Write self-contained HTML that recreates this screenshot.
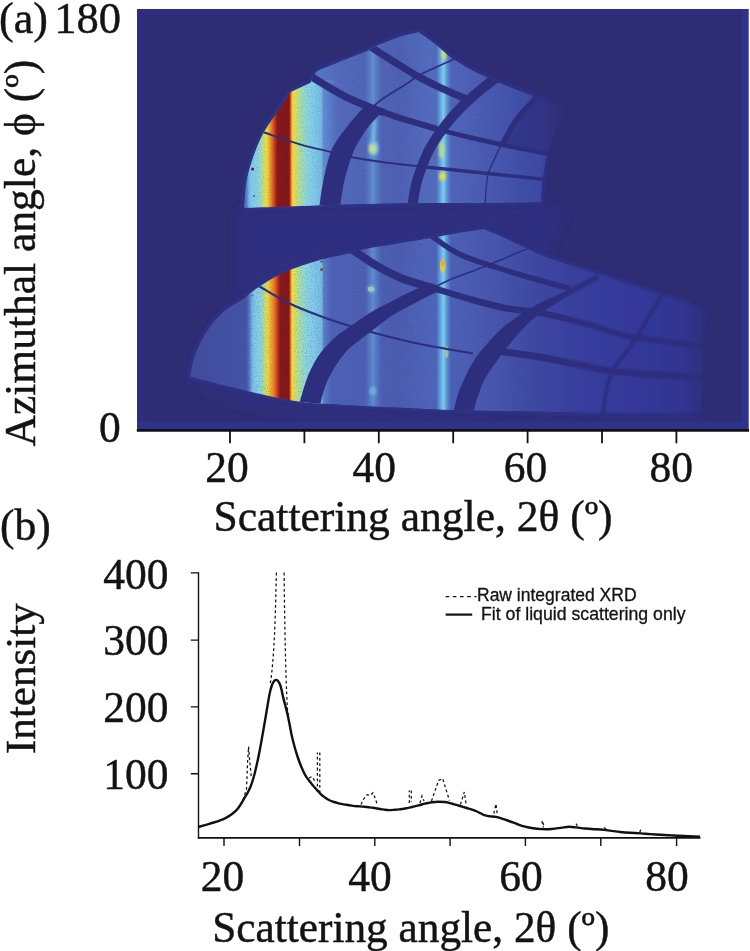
<!DOCTYPE html>
<html>
<head>
<meta charset="utf-8">
<title>Figure</title>
<style>
html,body{margin:0;padding:0;background:#fff;}
body{width:750px;height:951px;position:relative;overflow:hidden;font-family:"Liberation Serif",serif;}
svg{position:absolute;left:0;top:0;display:block;will-change:transform}
text{font-family:"Liberation Serif",serif;fill:#131313;stroke:#131313;stroke-width:0.45px;}
.sans{stroke-width:0.3px}
.sans{font-family:"Liberation Sans",sans-serif;}
</style>
</head>
<body>
<svg width="750" height="951" viewBox="0 0 750 951">
<defs>
<linearGradient id="gPanel" gradientUnits="userSpaceOnUse" x1="137" y1="0" x2="748" y2="0" ><stop offset="0.0000" stop-color="#404c9e"/><stop offset="0.1031" stop-color="#424ea0"/><stop offset="0.1768" stop-color="#4452a4"/><stop offset="0.2995" stop-color="#4c60b6"/><stop offset="0.3322" stop-color="#4b5eb3"/><stop offset="0.4304" stop-color="#4a5aae"/><stop offset="0.4795" stop-color="#4c62b8"/><stop offset="0.5450" stop-color="#485ab0"/><stop offset="0.5941" stop-color="#4452aa"/><stop offset="0.6596" stop-color="#3c46a0"/><stop offset="0.7250" stop-color="#383e9e"/><stop offset="0.7905" stop-color="#353a9b"/><stop offset="0.8723" stop-color="#323694"/><stop offset="0.9296" stop-color="#30338c"/><stop offset="1.0000" stop-color="#2f3086"/></linearGradient>
<linearGradient id="gPanelU" gradientUnits="userSpaceOnUse" x1="240" y1="0" x2="570" y2="0" ><stop offset="0.0000" stop-color="#4a5cb4"/><stop offset="0.2424" stop-color="#5574c4"/><stop offset="0.3030" stop-color="#5066b8"/><stop offset="0.4848" stop-color="#4c5eb2"/><stop offset="0.5758" stop-color="#506abc"/><stop offset="0.6667" stop-color="#4c60b6"/><stop offset="0.7879" stop-color="#4454ac"/><stop offset="0.9091" stop-color="#3c48a2"/><stop offset="1.0000" stop-color="#363e9c"/></linearGradient>
<linearGradient id="gPeakU" gradientUnits="userSpaceOnUse" x1="243" y1="0" x2="337" y2="0" ><stop offset="0.0000" stop-color="#4a6cc8" stop-opacity="0"/><stop offset="0.0372" stop-color="#5a8ad6" stop-opacity="0.7"/><stop offset="0.0638" stop-color="#74b8e4"/><stop offset="0.0957" stop-color="#7fcdea"/><stop offset="0.1596" stop-color="#86d2e6"/><stop offset="0.1968" stop-color="#a8dca8"/><stop offset="0.2234" stop-color="#cfe060"/><stop offset="0.2553" stop-color="#f0de3a"/><stop offset="0.2872" stop-color="#ee9a26"/><stop offset="0.3191" stop-color="#d85a1e"/><stop offset="0.3457" stop-color="#b02c1a"/><stop offset="0.3670" stop-color="#84191a"/><stop offset="0.4894" stop-color="#80181a"/><stop offset="0.5032" stop-color="#c8381c"/><stop offset="0.5160" stop-color="#f0a02a"/><stop offset="0.5319" stop-color="#f2de3c"/><stop offset="0.5638" stop-color="#d4e060"/><stop offset="0.5957" stop-color="#b4e08c"/><stop offset="0.6383" stop-color="#96dcc0"/><stop offset="0.6915" stop-color="#86d4e0"/><stop offset="0.7553" stop-color="#7ccaea"/><stop offset="0.8330" stop-color="#74bce8" stop-opacity="0.95"/><stop offset="0.8564" stop-color="#6aa8e2" stop-opacity="0.5"/><stop offset="1.0000" stop-color="#5c9ade" stop-opacity="0"/></linearGradient>
<linearGradient id="gPeakL" gradientUnits="userSpaceOnUse" x1="246" y1="0" x2="332" y2="0" ><stop offset="0.0000" stop-color="#4e78cc" stop-opacity="0"/><stop offset="0.0407" stop-color="#5a8ad6" stop-opacity="0.7"/><stop offset="0.0698" stop-color="#72b6e4"/><stop offset="0.1047" stop-color="#7cc8ea"/><stop offset="0.1628" stop-color="#86d2e4"/><stop offset="0.1919" stop-color="#9cd8b0"/><stop offset="0.2209" stop-color="#c4de68"/><stop offset="0.2500" stop-color="#e6de40"/><stop offset="0.2791" stop-color="#f0b42e"/><stop offset="0.3140" stop-color="#ec8a28"/><stop offset="0.3488" stop-color="#d8561e"/><stop offset="0.3791" stop-color="#a4281a"/><stop offset="0.4012" stop-color="#84191a"/><stop offset="0.4977" stop-color="#80181a"/><stop offset="0.5116" stop-color="#c8381c"/><stop offset="0.5233" stop-color="#f0a02a"/><stop offset="0.5395" stop-color="#f2de3c"/><stop offset="0.5698" stop-color="#d4e060"/><stop offset="0.6047" stop-color="#b4e08c"/><stop offset="0.6512" stop-color="#96dcc0"/><stop offset="0.7093" stop-color="#86d4e0"/><stop offset="0.7907" stop-color="#7ccaea"/><stop offset="0.8791" stop-color="#74bce8" stop-opacity="0.95"/><stop offset="0.9023" stop-color="#6aa8e2" stop-opacity="0.4"/><stop offset="1.0000" stop-color="#5c9ade" stop-opacity="0"/></linearGradient>
<linearGradient id="g49" gradientUnits="userSpaceOnUse" x1="436" y1="0" x2="452" y2="0" ><stop offset="0.0000" stop-color="#5aa0e0" stop-opacity="0"/><stop offset="0.2500" stop-color="#62b4e6" stop-opacity="0.75"/><stop offset="0.4688" stop-color="#7fd2ee" stop-opacity="0.95"/><stop offset="0.6875" stop-color="#62b4e6" stop-opacity="0.6"/><stop offset="0.9375" stop-color="#5aa0e0" stop-opacity="0"/></linearGradient>
<linearGradient id="g39" gradientUnits="userSpaceOnUse" x1="365" y1="0" x2="382" y2="0" ><stop offset="0.0000" stop-color="#5aa0e0" stop-opacity="0"/><stop offset="0.2647" stop-color="#62aee4" stop-opacity="0.32"/><stop offset="0.4706" stop-color="#74c4ea" stop-opacity="0.45"/><stop offset="0.7059" stop-color="#62aee4" stop-opacity="0.28"/><stop offset="1.0000" stop-color="#5aa0e0" stop-opacity="0"/></linearGradient>
<clipPath id="cU"><path d="M244.0 208.0C244.4 203.3 244.9 189.2 246.7 180.0C248.5 170.8 251.8 161.0 254.7 153.0C257.6 145.0 260.4 138.5 264.0 132.0C267.6 125.5 271.6 120.7 276.0 114.0C280.4 107.3 288.2 95.7 290.7 92.0L310.7 82.7C311.2 81.4 312.4 77.0 313.5 75.0C314.6 73.0 316.7 71.4 317.3 70.7C321.9 68.8 336.8 62.8 345.0 59.5C353.2 56.2 361.4 53.3 366.7 51.0C372.0 48.7 371.4 47.9 377.0 45.5C382.6 43.1 393.1 38.8 400.0 36.5C406.9 34.2 415.6 32.8 418.7 32.0C421.2 33.8 428.7 38.8 434.0 43.0C439.3 47.2 444.4 52.8 450.7 57.3C457.0 61.8 464.9 66.2 472.0 70.0C479.1 73.8 485.8 76.8 493.0 80.0C500.2 83.2 507.8 86.2 515.0 89.0C522.2 91.8 529.8 94.7 536.0 97.0C542.2 99.3 547.0 101.0 552.0 103.0C557.0 105.0 563.7 108.0 566.0 109.0C564.3 112.5 559.0 122.7 556.0 130.0C553.0 137.3 550.2 145.0 548.0 153.0C545.8 161.0 544.2 169.8 543.0 178.0C541.8 186.2 541.3 198.4 541.0 202.5C531.7 202.6 505.2 202.9 485.0 203.0C464.8 203.1 444.2 202.7 420.0 203.0C395.8 203.3 369.3 204.0 340.0 204.8C310.7 205.6 260.0 207.5 244.0 208.0Z"/></clipPath>
<clipPath id="cL"><path d="M190.0 376.8C190.6 373.9 192.0 364.9 193.5 359.7C195.0 354.5 196.8 350.5 198.9 345.9C201.0 341.3 203.3 336.6 206.3 332.0C209.3 327.4 213.4 321.9 217.0 318.0C220.6 314.1 224.1 311.2 227.7 308.5C231.2 305.8 235.8 303.5 238.3 302.0C240.8 300.5 240.5 300.9 242.6 299.3C244.7 297.7 247.9 294.8 251.0 292.5C254.1 290.2 259.3 286.7 261.0 285.5C265.0 283.2 275.2 276.2 285.0 272.0C294.8 267.8 309.8 263.0 320.0 260.0C330.2 257.0 338.5 255.8 346.0 254.0C353.5 252.2 356.0 250.8 365.0 249.0C374.0 247.2 388.7 244.9 400.0 243.0C411.3 241.1 423.0 239.2 433.0 237.5C443.0 235.8 451.5 233.9 460.0 232.5C468.5 231.1 480.0 229.6 484.0 229.0C487.2 230.3 497.0 234.3 503.0 237.0C509.0 239.7 513.8 242.1 520.0 245.0C526.2 247.9 532.0 251.2 540.0 254.5C548.0 257.8 558.5 261.3 568.0 264.5C577.5 267.7 586.7 270.2 597.0 273.5C607.3 276.8 619.3 280.9 630.0 284.5C640.7 288.1 651.0 291.8 661.0 295.0C671.0 298.2 682.2 301.5 690.0 304.0C697.8 306.5 705.0 309.0 708.0 310.0C707.5 315.8 705.8 333.3 705.0 345.0C704.2 356.7 703.7 368.7 703.0 380.0C702.3 391.3 701.3 407.2 701.0 412.7C685.2 412.7 636.2 412.9 606.0 412.7C575.8 412.5 545.7 411.8 520.0 411.3C494.3 410.9 472.0 410.6 452.0 410.0C432.0 409.4 418.7 408.7 400.0 407.8C381.3 406.9 356.9 405.8 340.0 404.7C323.1 403.6 314.0 403.7 298.7 401.5C283.4 399.3 266.1 395.4 248.0 391.3C229.9 387.2 199.7 379.2 190.0 376.8Z"/></clipPath>
<clipPath id="cH"><rect x="137" y="9" width="611.5" height="421.5"/></clipPath>
<filter id="soft" x="-5%" y="-5%" width="110%" height="110%"><feGaussianBlur stdDeviation="0.7"/></filter>
<filter id="soft2" x="-5%" y="-5%" width="110%" height="110%"><feGaussianBlur stdDeviation="1.6"/></filter>
<filter id="soft25" x="-5%" y="-10%" width="110%" height="120%"><feGaussianBlur stdDeviation="2.5"/></filter>
<filter id="soft15" x="-5%" y="-5%" width="110%" height="110%"><feGaussianBlur stdDeviation="1.15"/></filter>
<filter id="soft3" x="-20%" y="-20%" width="140%" height="140%"><feGaussianBlur stdDeviation="5"/></filter>
<filter id="nz" x="0" y="0" width="100%" height="100%" color-interpolation-filters="sRGB"><feTurbulence type="fractalNoise" baseFrequency="0.75" numOctaves="2" seed="7" result="n"/><feColorMatrix in="n" type="matrix" values="0 0 0 0 1  0 0 0 0 1  0 0 0 0 1  2.2 0 0 0 -1.0"/><feComposite in2="SourceGraphic" operator="in"/></filter>
<filter id="nzd" x="0" y="0" width="100%" height="100%" color-interpolation-filters="sRGB"><feTurbulence type="fractalNoise" baseFrequency="0.8" numOctaves="2" seed="23" result="n"/><feColorMatrix in="n" type="matrix" values="0 0 0 0 0.12  0 0 0 0 0.15  0 0 0 0 0.45  0 2.2 0 0 -1.0"/><feComposite in2="SourceGraphic" operator="in"/></filter>
<linearGradient id="gNzMask" gradientUnits="userSpaceOnUse" x1="244" y1="0" x2="330" y2="0" ><stop offset="0.0000" stop-color="#fff" stop-opacity="0"/><stop offset="0.1047" stop-color="#fff" stop-opacity="1"/><stop offset="0.2791" stop-color="#fff" stop-opacity="1"/><stop offset="0.3721" stop-color="#fff" stop-opacity="0.12"/><stop offset="0.5349" stop-color="#fff" stop-opacity="0.12"/><stop offset="0.5814" stop-color="#fff" stop-opacity="1"/><stop offset="0.8372" stop-color="#fff" stop-opacity="1"/><stop offset="1.0000" stop-color="#fff" stop-opacity="0"/></linearGradient>
<mask id="mNz" maskUnits="userSpaceOnUse" x="240" y="60" width="100" height="360"><rect x="240" y="60" width="100" height="360" fill="url(#gNzMask)"/></mask>
<linearGradient id="gNzMask2" gradientUnits="userSpaceOnUse" x1="320" y1="0" x2="565" y2="0" ><stop offset="0.0000" stop-color="#fff" stop-opacity="0"/><stop offset="0.0571" stop-color="#fff" stop-opacity="1"/><stop offset="0.6122" stop-color="#fff" stop-opacity="1"/><stop offset="1.0000" stop-color="#fff" stop-opacity="0"/></linearGradient>
<mask id="mNz2" maskUnits="userSpaceOnUse" x="320" y="20" width="250" height="400"><rect x="320" y="20" width="250" height="400" fill="url(#gNzMask2)"/></mask>
<linearGradient id="gBg" x1="0" y1="0" x2="0" y2="1"><stop offset="0" stop-color="#2e2d75"/><stop offset="0.45" stop-color="#2e2d76"/><stop offset="0.55" stop-color="#2e2f7c"/><stop offset="1" stop-color="#2e3080"/></linearGradient>
<linearGradient id="gFadeU" gradientUnits="userSpaceOnUse" x1="540" y1="0" x2="572" y2="0" ><stop offset="0.0000" stop-color="#2e2d75" stop-opacity="0"/><stop offset="0.5000" stop-color="#2e2d75" stop-opacity="0.55"/><stop offset="1.0000" stop-color="#2e2d75" stop-opacity="1"/></linearGradient>
<linearGradient id="gFadeL" gradientUnits="userSpaceOnUse" x1="684" y1="0" x2="712" y2="0" ><stop offset="0.0000" stop-color="#2e2d75" stop-opacity="0"/><stop offset="0.5000" stop-color="#2e2d75" stop-opacity="0.45"/><stop offset="1.0000" stop-color="#2e2d75" stop-opacity="1"/></linearGradient>
<clipPath id="cLeft"><rect x="137" y="9" width="433" height="422"/></clipPath>
<clipPath id="cRight"><rect x="570" y="9" width="180" height="422"/></clipPath>
<clipPath id="cMU"><rect x="137" y="9" width="410" height="230"/></clipPath>
<clipPath id="cML"><rect x="137" y="215" width="555" height="215"/></clipPath>
</defs>

<!-- ================= PANEL (a) heatmap ================= -->
<g id="heat">

<rect x="137" y="9" width="611.5" height="421.5" fill="#2e2c73"/><g clip-path="url(#cH)"><g filter="url(#soft3)"><path d="M237 209L545 204L568 212L548 258L520 246L484 230L433 238.5L346 255L285 273L261 287L240 301L237 292Z" fill="#2e3084" fill-opacity="0.7"/><path d="M184 377L300 405L460 414L700 417L700 424L420 424L300 420L215 400Z" fill="#2e3084" fill-opacity="0.6"/></g></g><g clip-path="url(#cH)"><g filter="url(#soft)"><rect x="137" y="9" width="7.2" height="421" fill="#2e2f80"/><rect x="137" y="9" width="611.5" height="6.5" fill="#2e2f80"/><rect x="742" y="9" width="6.7" height="421" fill="#2f328c"/><rect x="137" y="421.3" width="611.5" height="9.5" fill="#2e308a"/></g><g filter="url(#soft15)" fill="none" stroke="#2e3284" stroke-width="6.5" stroke-linejoin="round"><g clip-path="url(#cMU)"><path d="M244.0 208.0C244.4 203.3 244.9 189.2 246.7 180.0C248.5 170.8 251.8 161.0 254.7 153.0C257.6 145.0 260.4 138.5 264.0 132.0C267.6 125.5 271.6 120.7 276.0 114.0C280.4 107.3 288.2 95.7 290.7 92.0L310.7 82.7C311.2 81.4 312.4 77.0 313.5 75.0C314.6 73.0 316.7 71.4 317.3 70.7C321.9 68.8 336.8 62.8 345.0 59.5C353.2 56.2 361.4 53.3 366.7 51.0C372.0 48.7 371.4 47.9 377.0 45.5C382.6 43.1 393.1 38.8 400.0 36.5C406.9 34.2 415.6 32.8 418.7 32.0C421.2 33.8 428.7 38.8 434.0 43.0C439.3 47.2 444.4 52.8 450.7 57.3C457.0 61.8 464.9 66.2 472.0 70.0C479.1 73.8 485.8 76.8 493.0 80.0C500.2 83.2 507.8 86.2 515.0 89.0C522.2 91.8 529.8 94.7 536.0 97.0C542.2 99.3 547.0 101.0 552.0 103.0C557.0 105.0 563.7 108.0 566.0 109.0C564.3 112.5 559.0 122.7 556.0 130.0C553.0 137.3 550.2 145.0 548.0 153.0C545.8 161.0 544.2 169.8 543.0 178.0C541.8 186.2 541.3 198.4 541.0 202.5C531.7 202.6 505.2 202.9 485.0 203.0C464.8 203.1 444.2 202.7 420.0 203.0C395.8 203.3 369.3 204.0 340.0 204.8C310.7 205.6 260.0 207.5 244.0 208.0Z"/></g><g clip-path="url(#cML)"><path d="M190.0 376.8C190.6 373.9 192.0 364.9 193.5 359.7C195.0 354.5 196.8 350.5 198.9 345.9C201.0 341.3 203.3 336.6 206.3 332.0C209.3 327.4 213.4 321.9 217.0 318.0C220.6 314.1 224.1 311.2 227.7 308.5C231.2 305.8 235.8 303.5 238.3 302.0C240.8 300.5 240.5 300.9 242.6 299.3C244.7 297.7 247.9 294.8 251.0 292.5C254.1 290.2 259.3 286.7 261.0 285.5C265.0 283.2 275.2 276.2 285.0 272.0C294.8 267.8 309.8 263.0 320.0 260.0C330.2 257.0 338.5 255.8 346.0 254.0C353.5 252.2 356.0 250.8 365.0 249.0C374.0 247.2 388.7 244.9 400.0 243.0C411.3 241.1 423.0 239.2 433.0 237.5C443.0 235.8 451.5 233.9 460.0 232.5C468.5 231.1 480.0 229.6 484.0 229.0C487.2 230.3 497.0 234.3 503.0 237.0C509.0 239.7 513.8 242.1 520.0 245.0C526.2 247.9 532.0 251.2 540.0 254.5C548.0 257.8 558.5 261.3 568.0 264.5C577.5 267.7 586.7 270.2 597.0 273.5C607.3 276.8 619.3 280.9 630.0 284.5C640.7 288.1 651.0 291.8 661.0 295.0C671.0 298.2 682.2 301.5 690.0 304.0C697.8 306.5 705.0 309.0 708.0 310.0C707.5 315.8 705.8 333.3 705.0 345.0C704.2 356.7 703.7 368.7 703.0 380.0C702.3 391.3 701.3 407.2 701.0 412.7C685.2 412.7 636.2 412.9 606.0 412.7C575.8 412.5 545.7 411.8 520.0 411.3C494.3 410.9 472.0 410.6 452.0 410.0C432.0 409.4 418.7 408.7 400.0 407.8C381.3 406.9 356.9 405.8 340.0 404.7C323.1 403.6 314.0 403.7 298.7 401.5C283.4 399.3 266.1 395.4 248.0 391.3C229.9 387.2 199.7 379.2 190.0 376.8Z"/></g></g><g filter="url(#soft)"><g clip-path="url(#cU)"><path d="M244.0 208.0C244.4 203.3 244.9 189.2 246.7 180.0C248.5 170.8 251.8 161.0 254.7 153.0C257.6 145.0 260.4 138.5 264.0 132.0C267.6 125.5 271.6 120.7 276.0 114.0C280.4 107.3 288.2 95.7 290.7 92.0L310.7 82.7C311.2 81.4 312.4 77.0 313.5 75.0C314.6 73.0 316.7 71.4 317.3 70.7C321.9 68.8 336.8 62.8 345.0 59.5C353.2 56.2 361.4 53.3 366.7 51.0C372.0 48.7 371.4 47.9 377.0 45.5C382.6 43.1 393.1 38.8 400.0 36.5C406.9 34.2 415.6 32.8 418.7 32.0C421.2 33.8 428.7 38.8 434.0 43.0C439.3 47.2 444.4 52.8 450.7 57.3C457.0 61.8 464.9 66.2 472.0 70.0C479.1 73.8 485.8 76.8 493.0 80.0C500.2 83.2 507.8 86.2 515.0 89.0C522.2 91.8 529.8 94.7 536.0 97.0C542.2 99.3 547.0 101.0 552.0 103.0C557.0 105.0 563.7 108.0 566.0 109.0C564.3 112.5 559.0 122.7 556.0 130.0C553.0 137.3 550.2 145.0 548.0 153.0C545.8 161.0 544.2 169.8 543.0 178.0C541.8 186.2 541.3 198.4 541.0 202.5C531.7 202.6 505.2 202.9 485.0 203.0C464.8 203.1 444.2 202.7 420.0 203.0C395.8 203.3 369.3 204.0 340.0 204.8C310.7 205.6 260.0 207.5 244.0 208.0Z" fill="url(#gPanelU)"/><rect x="243" y="80" width="94" height="130" fill="url(#gPeakU)"/><rect x="365" y="40" width="17" height="170" fill="url(#g39)"/><rect x="436" y="25" width="16" height="185" fill="url(#g49)"/><path d="M321.3 80V206" stroke="#7fc8a0" stroke-opacity="0.55" stroke-width="1.2" stroke-dasharray="3 2"/><g filter="url(#soft2)"><ellipse cx="373.5" cy="148" rx="5.2" ry="7.5" fill="#7ccce8" fill-opacity="0.9"/><ellipse cx="372.5" cy="149" rx="3.4" ry="4.2" fill="#cfe070"/><path d="M373 120L376.5 118L375.5 140L371 140Z" fill="#7cc8ea" fill-opacity="0.7"/></g><g filter="url(#soft2)"><ellipse cx="441.5" cy="150" rx="2.8" ry="9" fill="#c8e078" fill-opacity="0.85"/><ellipse cx="442.5" cy="176.5" rx="3.4" ry="4" fill="#ecdc40"/><ellipse cx="444" cy="54" rx="2.6" ry="5.5" fill="#d8e060" fill-opacity="0.9"/></g><g mask="url(#mNz)"><rect x="244" y="85" width="90" height="125" fill="#fff" filter="url(#nz)" opacity="0.2"/><rect x="244" y="85" width="90" height="125" fill="#fff" filter="url(#nzd)" opacity="0.2"/></g><g mask="url(#mNz2)"><rect x="320" y="30" width="250" height="180" fill="#fff" filter="url(#nz)" opacity="0.08"/></g><circle cx="252.6" cy="169" r="1.5" fill="#7a1c18"/><circle cx="254" cy="196" r="0.9" fill="#3a58b0"/><path d="M304.0 71.0C305.6 72.2 306.7 73.8 313.5 78.0C320.3 82.2 335.1 91.4 345.0 96.5C354.9 101.6 366.5 105.8 373.0 108.5C379.5 111.2 382.2 111.8 384.0 112.5" fill="none" stroke="#2d2f7e" stroke-width="7.5" stroke-linecap="butt" /><path d="M380.0 111.0C383.3 112.2 393.3 115.8 400.0 118.0C406.7 120.2 413.8 122.2 420.0 124.0C426.2 125.8 434.2 128.2 437.0 129.0" fill="none" stroke="#2d2f7e" stroke-width="6.2" stroke-linecap="butt" /><path d="M432.0 127.6C435.0 128.4 444.0 130.9 450.0 132.5C456.0 134.1 459.5 135.0 468.0 137.0C476.5 139.0 488.3 141.8 501.0 144.5C513.7 147.2 534.2 151.2 544.0 153.0C553.8 154.8 557.3 155.1 560.0 155.5" fill="none" stroke="#2d2f7e" stroke-width="4.8" stroke-linecap="butt" /><path d="M366.0 42.0C367.1 43.0 366.8 44.1 372.5 48.0C378.2 51.9 392.1 60.6 400.0 65.5C407.9 70.4 413.0 73.7 420.0 77.5C427.0 81.3 434.3 84.9 442.0 88.5C449.7 92.1 462.0 97.2 466.0 99.0" fill="none" stroke="#2d2f7e" stroke-width="7.2" stroke-linecap="butt" /><path d="M318.8 214.0C318.9 212.6 318.7 211.0 319.5 205.3C320.3 199.6 321.7 188.7 323.5 180.0C325.3 171.3 328.0 160.0 330.3 153.3C332.6 146.6 334.5 144.4 337.3 140.0C340.1 135.6 343.1 131.6 347.0 126.7C350.9 121.8 357.0 114.5 360.5 110.7C364.0 106.9 366.8 105.1 368.0 104.0L384.0 110.0C383.4 110.6 383.1 110.7 380.5 113.5C377.9 116.3 372.0 122.3 368.5 126.7C365.0 131.1 362.2 135.6 359.6 140.0C357.0 144.4 355.3 146.6 352.8 153.3C350.3 160.0 346.7 171.3 344.6 180.0C342.5 188.7 341.2 199.6 340.3 205.3C339.4 211.0 339.6 212.6 339.5 214.0Z" fill="#2d2f7e"/><path d="M373.0 108.5C373.5 107.8 373.2 106.4 376.0 104.0C378.8 101.6 384.8 97.4 390.0 94.0C395.2 90.6 402.0 86.7 407.0 83.5C412.0 80.3 412.9 78.4 420.0 74.7C427.1 71.0 442.6 64.4 449.3 61.3C456.0 58.2 458.2 56.9 460.0 56.0" fill="none" stroke="#2d2f7e" stroke-width="1.8" stroke-linecap="butt" /><path d="M411.5 214.0C411.7 212.5 411.8 209.8 412.5 205.0C413.2 200.2 414.6 191.0 416.0 185.0C417.4 179.0 418.8 174.8 421.0 169.0C423.2 163.2 426.0 155.8 429.0 150.0C432.0 144.2 435.0 139.7 439.0 134.0C443.0 128.3 447.7 122.0 453.0 116.0C458.3 110.0 464.3 104.0 471.0 98.0C477.7 92.0 488.2 83.8 493.0 80.0C497.8 76.2 498.8 75.8 500.0 75.0" fill="none" stroke="#2d2f7e" stroke-width="10" stroke-linecap="butt" /><path d="M258.0 130.5C258.8 130.8 255.7 129.7 262.7 132.0C269.7 134.3 288.4 140.9 300.0 144.3C311.6 147.7 325.3 150.5 332.0 152.3C338.7 154.1 332.0 153.4 340.0 155.0C348.0 156.6 366.7 159.9 380.0 161.8C393.3 163.7 413.3 165.7 420.0 166.5" fill="none" stroke="#2d2f7e" stroke-width="1.9" stroke-linecap="butt" /><path d="M420.0 166.5C425.8 167.1 443.7 168.8 455.0 170.0C466.3 171.2 473.7 172.0 488.0 173.5C502.3 175.0 530.3 177.9 541.0 179.0C551.7 180.1 550.2 179.8 552.0 180.0" fill="none" stroke="#2d2f7e" stroke-width="3.4" stroke-linecap="butt" /><path d="M503.0 140.0C502.7 140.9 502.5 142.2 501.0 145.5C499.5 148.8 496.2 155.2 494.0 160.0C491.8 164.8 489.3 169.5 488.0 174.5C486.7 179.5 486.5 184.4 486.0 190.0C485.5 195.6 485.2 205.0 485.0 208.0" fill="none" stroke="#2d2f7e" stroke-width="1.4" stroke-linecap="butt" /><path d="M538 92L575 108L556 150L548 153L502 143L512 126.7L521 114L533 101Z" fill="#2f3180" fill-opacity="0.8"/><path d="M541.0 91.0C539.7 92.7 536.3 97.2 533.0 101.0C529.7 104.8 524.5 109.7 521.0 114.0C517.5 118.3 515.0 121.9 512.0 126.7C509.0 131.5 504.5 140.3 503.0 143.0" fill="none" stroke="#2d2f7e" stroke-width="5.5" stroke-linecap="butt" /><rect x="540" y="85" width="40" height="125" fill="url(#gFadeU)"/></g></g><g clip-path="url(#cLeft)"><g filter="url(#soft)"><g clip-path="url(#cL)"><path d="M190.0 376.8C190.6 373.9 192.0 364.9 193.5 359.7C195.0 354.5 196.8 350.5 198.9 345.9C201.0 341.3 203.3 336.6 206.3 332.0C209.3 327.4 213.4 321.9 217.0 318.0C220.6 314.1 224.1 311.2 227.7 308.5C231.2 305.8 235.8 303.5 238.3 302.0C240.8 300.5 240.5 300.9 242.6 299.3C244.7 297.7 247.9 294.8 251.0 292.5C254.1 290.2 259.3 286.7 261.0 285.5C265.0 283.2 275.2 276.2 285.0 272.0C294.8 267.8 309.8 263.0 320.0 260.0C330.2 257.0 338.5 255.8 346.0 254.0C353.5 252.2 356.0 250.8 365.0 249.0C374.0 247.2 388.7 244.9 400.0 243.0C411.3 241.1 423.0 239.2 433.0 237.5C443.0 235.8 451.5 233.9 460.0 232.5C468.5 231.1 480.0 229.6 484.0 229.0C487.2 230.3 497.0 234.3 503.0 237.0C509.0 239.7 513.8 242.1 520.0 245.0C526.2 247.9 532.0 251.2 540.0 254.5C548.0 257.8 558.5 261.3 568.0 264.5C577.5 267.7 586.7 270.2 597.0 273.5C607.3 276.8 619.3 280.9 630.0 284.5C640.7 288.1 651.0 291.8 661.0 295.0C671.0 298.2 682.2 301.5 690.0 304.0C697.8 306.5 705.0 309.0 708.0 310.0C707.5 315.8 705.8 333.3 705.0 345.0C704.2 356.7 703.7 368.7 703.0 380.0C702.3 391.3 701.3 407.2 701.0 412.7C685.2 412.7 636.2 412.9 606.0 412.7C575.8 412.5 545.7 411.8 520.0 411.3C494.3 410.9 472.0 410.6 452.0 410.0C432.0 409.4 418.7 408.7 400.0 407.8C381.3 406.9 356.9 405.8 340.0 404.7C323.1 403.6 314.0 403.7 298.7 401.5C283.4 399.3 266.1 395.4 248.0 391.3C229.9 387.2 199.7 379.2 190.0 376.8Z" fill="url(#gPanel)"/><rect x="246" y="250" width="86" height="160" fill="url(#gPeakL)"/><rect x="365" y="240" width="17" height="175" fill="url(#g39)"/><rect x="436" y="225" width="16" height="190" fill="url(#g49)"/><path d="M322.3 255V405" stroke="#7fc8a0" stroke-opacity="0.5" stroke-width="1.2" stroke-dasharray="3 2"/><ellipse cx="371" cy="289" rx="3" ry="2.6" fill="#d8e070" fill-opacity="0.8"/><ellipse cx="442.7" cy="266" rx="2.8" ry="7" fill="#e8c848" fill-opacity="0.9"/><ellipse cx="442.7" cy="263" rx="1.8" ry="3" fill="#f0a030" fill-opacity="0.9"/><ellipse cx="446.5" cy="352" rx="2" ry="6" fill="#c8dc78" fill-opacity="0.6"/><g filter="url(#soft15)"><ellipse cx="373" cy="391" rx="3.6" ry="4.5" fill="#7cc8ea" fill-opacity="0.55"/><ellipse cx="371.5" cy="289" rx="4.5" ry="4" fill="#7cc8ea" fill-opacity="0.5"/></g><g mask="url(#mNz)"><rect x="244" y="255" width="90" height="150" fill="#fff" filter="url(#nz)" opacity="0.26"/><rect x="244" y="255" width="90" height="150" fill="#fff" filter="url(#nzd)" opacity="0.26"/></g><g mask="url(#mNz2)"><rect x="320" y="225" width="250" height="190" fill="#fff" filter="url(#nz)" opacity="0.08"/></g><circle cx="321.6" cy="261.6" r="1.1" fill="#8a2a20"/><circle cx="321.6" cy="269.6" r="1.3" fill="#8a2a20"/><circle cx="252" cy="295.5" r="0.9" fill="#5a7a50"/><path d="M255.0 284.0C255.8 284.4 254.5 283.6 260.0 286.7C265.5 289.8 278.0 297.8 288.0 302.7C298.0 307.6 310.2 312.3 320.0 316.0C329.8 319.7 337.6 322.2 346.7 325.0C355.8 327.8 362.5 329.8 374.7 333.0C386.9 336.2 403.6 340.6 420.0 344.0C436.4 347.4 464.2 351.9 473.0 353.5" fill="none" stroke="#2d2f7e" stroke-width="2.2" stroke-linecap="butt" /><path d="M486.0 350.5C488.3 350.7 491.0 350.4 500.0 351.5C509.0 352.6 527.5 354.9 540.0 357.0C552.5 359.1 563.0 361.7 575.0 364.0C587.0 366.3 597.8 369.2 612.0 371.0C626.2 372.8 643.3 373.8 660.0 375.0C676.7 376.2 703.3 377.5 712.0 378.0" fill="none" stroke="#2d2f7e" stroke-width="7" stroke-linecap="butt" /><path d="M342.0 245.5C344.2 246.5 349.3 248.3 355.0 251.6C360.7 254.9 368.5 261.1 376.0 265.4C383.5 269.7 392.0 274.2 400.0 277.6C408.0 281.0 418.0 283.6 424.0 285.5C430.0 287.4 434.0 288.4 436.0 289.0" fill="none" stroke="#2d2f7e" stroke-width="8" stroke-linecap="butt" /><path d="M430.0 287.0C437.2 289.2 460.5 296.5 473.0 300.0C485.5 303.5 494.7 306.0 505.0 308.0C515.3 310.0 530.0 311.3 535.0 312.0" fill="none" stroke="#2d2f7e" stroke-width="6.5" stroke-linecap="butt" /><path d="M530.0 311.5C533.5 312.1 540.7 312.8 550.7 315.0C560.7 317.2 577.3 321.5 590.0 325.0C602.7 328.5 613.7 333.2 627.0 336.0C640.3 338.8 655.3 340.0 670.0 342.0C684.7 344.0 707.5 347.0 715.0 348.0" fill="none" stroke="#2d2f7e" stroke-width="6" stroke-linecap="butt" /><path d="M427.0 232.0C428.0 232.8 427.5 233.2 433.0 237.0C438.5 240.8 448.8 249.2 460.0 254.5C471.2 259.8 486.7 264.2 500.0 268.5C513.3 272.8 528.3 277.2 540.0 280.5C551.7 283.8 565.0 287.2 570.0 288.5" fill="none" stroke="#2d2f7e" stroke-width="5.5" stroke-linecap="butt" /><path d="M298.0 405.0C298.3 404.3 298.9 404.3 300.0 401.0C301.1 397.7 303.0 390.3 304.8 385.0C306.6 379.7 308.3 374.4 311.0 369.0C313.7 363.6 316.6 358.0 320.8 352.5C325.1 347.0 332.0 340.1 336.5 336.0C341.0 331.9 342.6 331.8 348.0 328.0C353.4 324.2 361.5 318.1 369.0 313.5C376.5 308.9 384.9 304.7 393.0 300.5C401.1 296.3 410.9 291.3 417.6 288.5C424.3 285.7 430.4 284.3 433.0 283.5L440.0 290.5C436.0 292.5 424.0 298.2 416.0 302.4C408.0 306.6 399.2 310.9 392.0 315.5C384.8 320.1 378.3 325.9 373.0 330.0C367.7 334.1 364.2 336.7 360.0 340.0C355.8 343.3 351.9 345.2 347.5 350.0C343.1 354.8 337.2 363.2 333.6 369.0C330.0 374.8 327.9 379.6 325.8 385.0C323.7 390.4 321.8 398.2 321.0 401.5C320.2 404.8 321.0 404.4 321.0 405.0Z" fill="#2d2f7e"/><path d="M433.0 288.0C436.2 286.4 444.0 282.0 452.0 278.7C460.0 275.4 472.2 271.4 481.0 268.0C489.8 264.6 497.4 261.2 505.0 258.0C512.6 254.8 520.9 251.3 526.7 249.0C532.5 246.7 537.8 244.8 540.0 244.0" fill="none" stroke="#2d2f7e" stroke-width="1.6" stroke-linecap="butt" /><path d="M454.0 414.0C454.1 412.8 453.7 411.2 454.7 407.0C455.7 402.8 456.9 396.2 460.0 388.7C463.1 381.2 468.7 369.3 473.0 362.0C477.3 354.7 481.5 350.3 486.0 345.0C490.5 339.7 494.3 335.0 500.0 330.0C505.7 325.0 513.3 319.5 520.0 315.0C526.7 310.5 532.0 307.2 540.0 303.0C548.0 298.8 558.5 294.8 568.0 290.0C577.5 285.2 592.2 276.7 597.0 274.0L600.0 279.0C595.0 281.7 580.0 289.2 570.0 295.0C560.0 300.8 547.2 309.1 540.0 314.0C532.8 318.9 531.2 320.4 526.7 324.7C522.2 329.0 517.5 334.7 513.0 340.0C508.6 345.3 504.8 349.9 500.0 356.7C495.2 363.5 488.2 372.3 484.0 380.7C479.8 389.1 476.4 401.4 474.7 407.0C473.0 412.6 474.1 412.8 474.0 414.0Z" fill="#2d2f7e"/><path d="M666.0 289.0C665.2 290.3 663.7 292.7 661.0 297.0C658.3 301.3 653.5 309.2 650.0 315.0C646.5 320.8 643.3 326.7 640.0 332.0C636.7 337.3 633.1 342.6 630.0 347.0C626.9 351.4 624.3 354.7 621.3 358.7C618.3 362.7 614.5 365.4 612.0 371.0C609.5 376.6 607.5 384.8 606.0 392.0C604.5 399.2 603.5 410.3 603.0 414.0" fill="none" stroke="#2d2f7e" stroke-width="4.2" stroke-linecap="butt" /><rect x="684" y="290" width="30" height="130" fill="url(#gFadeL)"/></g></g></g><g clip-path="url(#cRight)"><g filter="url(#soft15)"><g clip-path="url(#cL)"><path d="M190.0 376.8C190.6 373.9 192.0 364.9 193.5 359.7C195.0 354.5 196.8 350.5 198.9 345.9C201.0 341.3 203.3 336.6 206.3 332.0C209.3 327.4 213.4 321.9 217.0 318.0C220.6 314.1 224.1 311.2 227.7 308.5C231.2 305.8 235.8 303.5 238.3 302.0C240.8 300.5 240.5 300.9 242.6 299.3C244.7 297.7 247.9 294.8 251.0 292.5C254.1 290.2 259.3 286.7 261.0 285.5C265.0 283.2 275.2 276.2 285.0 272.0C294.8 267.8 309.8 263.0 320.0 260.0C330.2 257.0 338.5 255.8 346.0 254.0C353.5 252.2 356.0 250.8 365.0 249.0C374.0 247.2 388.7 244.9 400.0 243.0C411.3 241.1 423.0 239.2 433.0 237.5C443.0 235.8 451.5 233.9 460.0 232.5C468.5 231.1 480.0 229.6 484.0 229.0C487.2 230.3 497.0 234.3 503.0 237.0C509.0 239.7 513.8 242.1 520.0 245.0C526.2 247.9 532.0 251.2 540.0 254.5C548.0 257.8 558.5 261.3 568.0 264.5C577.5 267.7 586.7 270.2 597.0 273.5C607.3 276.8 619.3 280.9 630.0 284.5C640.7 288.1 651.0 291.8 661.0 295.0C671.0 298.2 682.2 301.5 690.0 304.0C697.8 306.5 705.0 309.0 708.0 310.0C707.5 315.8 705.8 333.3 705.0 345.0C704.2 356.7 703.7 368.7 703.0 380.0C702.3 391.3 701.3 407.2 701.0 412.7C685.2 412.7 636.2 412.9 606.0 412.7C575.8 412.5 545.7 411.8 520.0 411.3C494.3 410.9 472.0 410.6 452.0 410.0C432.0 409.4 418.7 408.7 400.0 407.8C381.3 406.9 356.9 405.8 340.0 404.7C323.1 403.6 314.0 403.7 298.7 401.5C283.4 399.3 266.1 395.4 248.0 391.3C229.9 387.2 199.7 379.2 190.0 376.8Z" fill="url(#gPanel)"/><rect x="246" y="250" width="86" height="160" fill="url(#gPeakL)"/><rect x="365" y="240" width="17" height="175" fill="url(#g39)"/><rect x="436" y="225" width="16" height="190" fill="url(#g49)"/><path d="M322.3 255V405" stroke="#7fc8a0" stroke-opacity="0.5" stroke-width="1.2" stroke-dasharray="3 2"/><ellipse cx="371" cy="289" rx="3" ry="2.6" fill="#d8e070" fill-opacity="0.8"/><ellipse cx="442.7" cy="266" rx="2.8" ry="7" fill="#e8c848" fill-opacity="0.9"/><ellipse cx="442.7" cy="263" rx="1.8" ry="3" fill="#f0a030" fill-opacity="0.9"/><ellipse cx="446.5" cy="352" rx="2" ry="6" fill="#c8dc78" fill-opacity="0.6"/><g filter="url(#soft15)"><ellipse cx="373" cy="391" rx="3.6" ry="4.5" fill="#7cc8ea" fill-opacity="0.55"/><ellipse cx="371.5" cy="289" rx="4.5" ry="4" fill="#7cc8ea" fill-opacity="0.5"/></g><g mask="url(#mNz)"><rect x="244" y="255" width="90" height="150" fill="#fff" filter="url(#nz)" opacity="0.26"/><rect x="244" y="255" width="90" height="150" fill="#fff" filter="url(#nzd)" opacity="0.26"/></g><g mask="url(#mNz2)"><rect x="320" y="225" width="250" height="190" fill="#fff" filter="url(#nz)" opacity="0.08"/></g><circle cx="321.6" cy="261.6" r="1.1" fill="#8a2a20"/><circle cx="321.6" cy="269.6" r="1.3" fill="#8a2a20"/><circle cx="252" cy="295.5" r="0.9" fill="#5a7a50"/><path d="M255.0 284.0C255.8 284.4 254.5 283.6 260.0 286.7C265.5 289.8 278.0 297.8 288.0 302.7C298.0 307.6 310.2 312.3 320.0 316.0C329.8 319.7 337.6 322.2 346.7 325.0C355.8 327.8 362.5 329.8 374.7 333.0C386.9 336.2 403.6 340.6 420.0 344.0C436.4 347.4 464.2 351.9 473.0 353.5" fill="none" stroke="#2d2f7e" stroke-width="2.2" stroke-linecap="butt" /><path d="M486.0 350.5C488.3 350.7 491.0 350.4 500.0 351.5C509.0 352.6 527.5 354.9 540.0 357.0C552.5 359.1 563.0 361.7 575.0 364.0C587.0 366.3 597.8 369.2 612.0 371.0C626.2 372.8 643.3 373.8 660.0 375.0C676.7 376.2 703.3 377.5 712.0 378.0" fill="none" stroke="#2d2f7e" stroke-width="7" stroke-linecap="butt" /><path d="M342.0 245.5C344.2 246.5 349.3 248.3 355.0 251.6C360.7 254.9 368.5 261.1 376.0 265.4C383.5 269.7 392.0 274.2 400.0 277.6C408.0 281.0 418.0 283.6 424.0 285.5C430.0 287.4 434.0 288.4 436.0 289.0" fill="none" stroke="#2d2f7e" stroke-width="8" stroke-linecap="butt" /><path d="M430.0 287.0C437.2 289.2 460.5 296.5 473.0 300.0C485.5 303.5 494.7 306.0 505.0 308.0C515.3 310.0 530.0 311.3 535.0 312.0" fill="none" stroke="#2d2f7e" stroke-width="6.5" stroke-linecap="butt" /><path d="M530.0 311.5C533.5 312.1 540.7 312.8 550.7 315.0C560.7 317.2 577.3 321.5 590.0 325.0C602.7 328.5 613.7 333.2 627.0 336.0C640.3 338.8 655.3 340.0 670.0 342.0C684.7 344.0 707.5 347.0 715.0 348.0" fill="none" stroke="#2d2f7e" stroke-width="6" stroke-linecap="butt" /><path d="M427.0 232.0C428.0 232.8 427.5 233.2 433.0 237.0C438.5 240.8 448.8 249.2 460.0 254.5C471.2 259.8 486.7 264.2 500.0 268.5C513.3 272.8 528.3 277.2 540.0 280.5C551.7 283.8 565.0 287.2 570.0 288.5" fill="none" stroke="#2d2f7e" stroke-width="5.5" stroke-linecap="butt" /><path d="M298.0 405.0C298.3 404.3 298.9 404.3 300.0 401.0C301.1 397.7 303.0 390.3 304.8 385.0C306.6 379.7 308.3 374.4 311.0 369.0C313.7 363.6 316.6 358.0 320.8 352.5C325.1 347.0 332.0 340.1 336.5 336.0C341.0 331.9 342.6 331.8 348.0 328.0C353.4 324.2 361.5 318.1 369.0 313.5C376.5 308.9 384.9 304.7 393.0 300.5C401.1 296.3 410.9 291.3 417.6 288.5C424.3 285.7 430.4 284.3 433.0 283.5L440.0 290.5C436.0 292.5 424.0 298.2 416.0 302.4C408.0 306.6 399.2 310.9 392.0 315.5C384.8 320.1 378.3 325.9 373.0 330.0C367.7 334.1 364.2 336.7 360.0 340.0C355.8 343.3 351.9 345.2 347.5 350.0C343.1 354.8 337.2 363.2 333.6 369.0C330.0 374.8 327.9 379.6 325.8 385.0C323.7 390.4 321.8 398.2 321.0 401.5C320.2 404.8 321.0 404.4 321.0 405.0Z" fill="#2d2f7e"/><path d="M433.0 288.0C436.2 286.4 444.0 282.0 452.0 278.7C460.0 275.4 472.2 271.4 481.0 268.0C489.8 264.6 497.4 261.2 505.0 258.0C512.6 254.8 520.9 251.3 526.7 249.0C532.5 246.7 537.8 244.8 540.0 244.0" fill="none" stroke="#2d2f7e" stroke-width="1.6" stroke-linecap="butt" /><path d="M454.0 414.0C454.1 412.8 453.7 411.2 454.7 407.0C455.7 402.8 456.9 396.2 460.0 388.7C463.1 381.2 468.7 369.3 473.0 362.0C477.3 354.7 481.5 350.3 486.0 345.0C490.5 339.7 494.3 335.0 500.0 330.0C505.7 325.0 513.3 319.5 520.0 315.0C526.7 310.5 532.0 307.2 540.0 303.0C548.0 298.8 558.5 294.8 568.0 290.0C577.5 285.2 592.2 276.7 597.0 274.0L600.0 279.0C595.0 281.7 580.0 289.2 570.0 295.0C560.0 300.8 547.2 309.1 540.0 314.0C532.8 318.9 531.2 320.4 526.7 324.7C522.2 329.0 517.5 334.7 513.0 340.0C508.6 345.3 504.8 349.9 500.0 356.7C495.2 363.5 488.2 372.3 484.0 380.7C479.8 389.1 476.4 401.4 474.7 407.0C473.0 412.6 474.1 412.8 474.0 414.0Z" fill="#2d2f7e"/><path d="M666.0 289.0C665.2 290.3 663.7 292.7 661.0 297.0C658.3 301.3 653.5 309.2 650.0 315.0C646.5 320.8 643.3 326.7 640.0 332.0C636.7 337.3 633.1 342.6 630.0 347.0C626.9 351.4 624.3 354.7 621.3 358.7C618.3 362.7 614.5 365.4 612.0 371.0C609.5 376.6 607.5 384.8 606.0 392.0C604.5 399.2 603.5 410.3 603.0 414.0" fill="none" stroke="#2d2f7e" stroke-width="4.2" stroke-linecap="butt" /><rect x="684" y="290" width="30" height="130" fill="url(#gFadeL)"/></g></g></g></g>
</g>

<!-- axis (a) -->
<g stroke="#111" stroke-width="2.2" fill="none">
<path d="M136.8 430.3H749" stroke-width="2.7"/>
<path d="M230 430v13.2M304.4 430v13.2M378.8 430v13.2M453.2 430v13.2M527.6 430v13.2M602 430v13.2M676.4 430v13.2" stroke-width="1.8"/>
</g>

<!-- text (a) -->
<g id="txta" font-size="43.5">
<text id="la" x="-1" y="33.2" font-size="44">(a)</text>
<text id="l180" x="54.3" y="33.2" font-size="44.5">180</text>
<text id="l0" x="99" y="442.4">0</text>
<text id="a20" x="227" y="481.8" text-anchor="middle">20</text>
<text id="a40" x="374.2" y="481.8" text-anchor="middle">40</text>
<text id="a60" x="525.6" y="481.8" text-anchor="middle">60</text>
<text id="a80" x="671.2" y="481.8" text-anchor="middle">80</text>
<text id="xa" x="213.5" y="531">Scattering angle, 2θ (º)</text>
<text id="ya" transform="translate(35 446.5) rotate(-90)">Azimuthal angle, ϕ (º)</text>
</g>

<!-- ================= PANEL (b) ================= -->
<g id="txtb" font-size="43.5">
<text id="lb" x="0" y="539.8">(b)</text>
<text id="yb" font-size="43.1" transform="translate(35 754) rotate(-90)">Intensity</text>
<text id="b400" x="168.6" y="588.7" text-anchor="end">400</text>
<text id="b300" x="168.6" y="655.4" text-anchor="end">300</text>
<text id="b200" x="168.6" y="722.1" text-anchor="end">200</text>
<text id="b100" x="168.6" y="788.8" text-anchor="end">100</text>
<text id="b20" x="222.5" y="891" text-anchor="middle">20</text>
<text id="b40" x="370" y="891" text-anchor="middle">40</text>
<text id="b60" x="521" y="891" text-anchor="middle">60</text>
<text id="b80" x="667" y="891" text-anchor="middle">80</text>
<text id="xb" x="212.2" y="941.5" font-size="43.3">Scattering angle, 2θ (º)</text>
</g>

<!-- axes (b) -->
<g stroke="#111" stroke-width="1.4" fill="none">
<path d="M198.5 572.2V838.6"/>
<path d="M197.8 837.9H700.5" stroke-width="1.6"/>
<path d="M190.8 572.9H198.5M190.8 640.1H198.5M190.8 706.9H198.5M190.8 773.8H198.5"/>
<path d="M224 838v8M299.5 838v8M374.8 838v8M450.1 838v8M525.4 838v8M600.8 838v8M676.6 838v8"/>
</g>

<!-- curves (b) -->
<g id="curves" fill="none" stroke="#111">
<path d="M198.3 826.9C199.4 826.6 202.7 825.9 205.0 825.2C207.3 824.6 209.7 823.7 212.0 823.0C214.3 822.3 216.8 821.6 219.0 820.8C221.2 820.0 223.0 819.4 225.0 818.4C227.0 817.4 229.2 816.1 231.0 814.8C232.8 813.5 234.5 812.2 236.0 810.7C237.5 809.2 238.7 807.5 240.0 805.5C241.3 803.5 242.8 800.8 244.0 798.7C245.2 796.6 246.4 795.1 247.5 793.0C248.6 790.9 249.6 789.1 250.7 786.3C251.8 783.5 253.0 779.6 254.0 776.0C255.0 772.4 255.8 768.8 256.8 764.5C257.8 760.2 258.8 755.4 259.8 750.0C260.8 744.6 262.1 737.5 263.0 732.3C263.9 727.1 264.6 723.2 265.3 719.0C266.0 714.8 266.7 710.7 267.3 707.0C267.9 703.3 268.5 699.8 269.0 697.0C269.5 694.2 269.9 692.3 270.4 690.3C270.9 688.3 271.5 686.4 272.0 685.0C272.5 683.6 273.1 682.6 273.6 681.8C274.1 681.0 274.6 680.6 275.0 680.3C275.4 680.0 275.8 679.8 276.3 679.9C276.8 680.0 277.4 680.3 278.0 681.0C278.6 681.7 279.3 682.8 279.9 684.2C280.5 685.6 281.0 687.4 281.5 689.5C282.0 691.6 282.4 694.1 283.0 696.6C283.6 699.1 284.3 701.7 285.0 704.5C285.7 707.3 286.6 710.1 287.3 713.4C288.1 716.6 288.8 720.5 289.5 724.0C290.2 727.5 290.7 730.6 291.5 734.4C292.3 738.1 293.5 742.8 294.5 746.5C295.5 750.2 296.4 753.2 297.5 756.5C298.6 759.8 299.8 763.0 301.0 766.0C302.2 769.0 303.7 772.3 305.0 774.7C306.3 777.1 307.7 778.7 309.0 780.5C310.3 782.3 311.7 783.9 313.0 785.5C314.3 787.1 315.7 788.5 317.0 790.0C318.3 791.5 319.7 793.0 321.0 794.3C322.3 795.5 323.7 796.5 325.0 797.5C326.3 798.5 327.5 799.2 329.0 800.0C330.5 800.8 332.2 801.4 334.0 802.0C335.8 802.6 338.0 803.1 340.0 803.6C342.0 804.1 343.8 804.4 346.0 804.8C348.2 805.2 350.7 805.6 353.0 805.9C355.3 806.2 357.7 806.2 360.0 806.4C362.3 806.6 364.5 806.8 366.7 807.0C368.9 807.2 370.8 807.5 373.0 807.8C375.2 808.1 378.0 808.7 380.0 809.0C382.0 809.3 383.5 809.6 385.0 809.8C386.5 810.0 387.3 810.1 389.0 810.1C390.7 810.1 393.2 809.9 395.0 809.8C396.8 809.7 398.3 809.5 400.0 809.3C401.7 809.1 403.0 808.9 405.0 808.5C407.0 808.1 409.7 807.5 412.0 807.0C414.3 806.5 416.5 805.8 418.7 805.3C420.9 804.8 422.8 804.2 425.0 803.7C427.2 803.2 429.8 802.5 432.0 802.2C434.2 801.9 435.8 801.7 438.0 801.7C440.2 801.7 443.2 801.8 445.0 802.0C446.8 802.2 447.7 802.5 449.0 802.8C450.3 803.1 451.2 803.5 453.0 804.0C454.8 804.5 457.7 805.3 460.0 806.0C462.3 806.7 464.7 807.4 466.7 808.0C468.7 808.6 470.3 809.0 472.0 809.6C473.7 810.2 475.5 810.9 477.0 811.5C478.5 812.1 479.7 812.9 481.0 813.5C482.3 814.1 483.5 814.9 485.0 815.4C486.5 815.9 488.2 816.0 490.0 816.3C491.8 816.5 494.0 816.5 496.0 816.9C498.0 817.3 499.8 817.9 502.0 818.6C504.2 819.3 506.5 820.1 509.0 821.0C511.5 821.9 514.3 823.0 517.0 824.0C519.7 825.0 522.3 826.0 525.0 826.7C527.7 827.4 530.3 827.9 533.0 828.3C535.7 828.7 538.5 829.0 541.0 829.1C543.5 829.2 545.7 829.3 548.0 829.2C550.3 829.1 552.7 828.9 555.0 828.6C557.3 828.3 559.7 827.9 562.0 827.6C564.3 827.3 566.7 826.8 569.0 826.8C571.3 826.8 573.3 827.1 576.0 827.4C578.7 827.7 582.0 828.2 585.0 828.5C588.0 828.8 590.8 829.0 594.0 829.2C597.2 829.4 601.0 829.6 604.0 829.9C607.0 830.2 609.3 830.5 612.0 830.9C614.7 831.2 617.0 831.7 620.0 832.0C623.0 832.3 626.5 832.6 630.0 832.8C633.5 833.0 637.7 833.2 641.0 833.4C644.3 833.6 646.8 833.9 650.0 834.1C653.2 834.3 656.7 834.6 660.0 834.8C663.3 835.0 666.9 835.1 670.0 835.3C673.1 835.4 675.4 835.6 678.7 835.7C682.0 835.9 686.5 836.0 690.0 836.2C693.5 836.4 698.3 836.6 700.0 836.7" stroke-width="2.4" stroke-linejoin="round" stroke-linecap="butt"/><path d="M276.4 572.6C276 590 275.6 606 275 623C274.4 640 273.6 652 272.5 665C271.8 673 271.2 678 270.2 684" stroke-width="1.25" stroke-dasharray="2.8 2.6"/><path d="M284.1 572.6C284.4 600 284.8 625 285.2 644C285.7 668 286.4 690 287.3 707C287.6 711 287.9 713.5 288.4 716" stroke-width="1.25" stroke-dasharray="2.8 2.6"/><path d="M243 800L246.5 789L247.6 762L248.6 746.5L249.6 760L251.4 778" stroke-width="1.25" stroke-dasharray="2.8 2.6" stroke-dasharray="3 1.8"/><path d="M309 778L312 776.5L316 783M317.4 792V752.5M319.8 752.5V793" stroke-width="1.25" stroke-dasharray="2.8 2.6" stroke-dasharray="3.2 1.6"/><path d="M361 804.5L364 798.5L367 794.7L370 795.5L373 792.8L375 798L377.3 804.5" stroke-width="1.25" stroke-dasharray="2.8 2.6" stroke-dasharray="3 2"/><path d="M409.3 803V790.5M411.3 790.5V802" stroke-width="1.25" stroke-dasharray="2.8 2.6" stroke-dasharray="3.4 2"/><path d="M420 803L422 796L424 801" stroke-width="1.25" stroke-dasharray="2.8 2.6" stroke-dasharray="3 2"/><path d="M431.5 801L435 791L438.5 780.5L442.7 778.6L445.5 788L449.5 800.5" stroke-width="1.25" stroke-dasharray="2.8 2.6" stroke-dasharray="4 2.4"/><path d="M460.5 804.5L464.3 792L466.2 805" stroke-width="1.25" stroke-dasharray="2.8 2.6" stroke-dasharray="3.2 2"/><path d="M493.8 813.5L496 804L497.3 815" stroke-width="1.25" stroke-dasharray="2.8 2.6" stroke-dasharray="3.2 2"/><path d="M541.8 821L543.4 827.5M542.8 822.5L544.4 827" stroke-width="1.25" stroke-dasharray="2.8 2.6" stroke-dasharray="3 2"/><path d="M576 823.6L578 827" stroke-width="1.25" stroke-dasharray="2.8 2.6"/><path d="M604 827.5L606.5 829.5" stroke-width="1.25" stroke-dasharray="2.8 2.6"/><path d="M639.8 832.3L641.2 828" stroke-width="1.25" stroke-dasharray="2.8 2.6"/>
</g>

<!-- legend -->
<g id="legend">
<path d="M445.6 596.6H476.5" stroke="#111" stroke-width="1.2" stroke-dasharray="3.6 3.6" fill="none"/><path d="M445.6 614.6H472.2" stroke="#111" stroke-width="2.2" fill="none"/><text id="lg1" class="sans" x="477" y="601.3" font-size="17.5">Raw integrated XRD</text><text id="lg2" class="sans" x="481" y="619.7" font-size="17.7">Fit of liquid scattering only</text>
</g>
</svg>
</body>
</html>
